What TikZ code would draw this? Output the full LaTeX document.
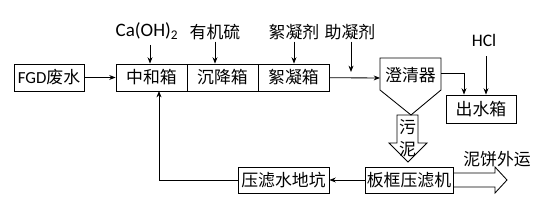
\documentclass[tikz,border=0pt]{standalone}
\usepackage{fontspec}
\setmainfont{Carlito}
\newfontfamily\cjk{Noto Sans CJK SC}
\usetikzlibrary{arrows.meta}
\newcommand\pxl{0.025cm}
\tikzset{
  box/.style={draw, minimum height=27*\pxl, inner sep=0pt, font=\fontsize{12}{14}\selectfont\cjk},
  lbl/.style={inner sep=1pt, font=\fontsize{12}{14}\selectfont\cjk},
  flow/.style={-{Stealth[length=4.5pt,width=3.5pt]}},
}
\begin{document}
\begin{tikzpicture}[x=0.025cm,y=-0.025cm,line width=0.6pt,font=\fontsize{11}{13}\selectfont]
  \useasboundingbox (0,0) rectangle (551,208);
  % boxes
  \node[box,minimum width=70*\pxl] (fgd) at (49,77.5) {\normalfont\fontsize{12}{14}\selectfont FGD\cjk 废水};
  \node[box,minimum width=71*\pxl] (zh) at (151.5,77.5) {中和箱};
  \node[box,minimum width=71*\pxl] (cj) at (222.5,77.5) {沉降箱};
  \node[box,minimum width=71*\pxl] (xn) at (293.5,77.5) {絮凝箱};
  \node[box,minimum width=70*\pxl,minimum height=28*\pxl] (csx) at (481,109) {出水箱};
  \node[box,minimum width=88*\pxl,minimum height=26*\pxl] (bk) at (409,180) {板框压滤机};
  \node[box,minimum width=91*\pxl,minimum height=26*\pxl] (ylsd) at (283.5,180) {压滤水地坑};
  % clarifier
  \draw (380,58) -- (441,58) -- (441,90) -- (411,115) -- (380,90) -- cycle;
  \node[lbl] (cqq) at (410.5,75) {澄清器};
  \coordinate (cqqw) at (380,78);
  \coordinate (cqqe) at (441,73);
  % dosing labels
  \node[lbl,font=\fontsize{13.5}{15}\selectfont] (caoh) at (147,31) {Ca(OH)\textsubscript{2}};
  \node[lbl] (yjl) at (215,32) {有机硫};
  \node[lbl] (xnj) at (294,32) {絮凝剂};
  \node[lbl] (znj) at (350,32) {助凝剂};
  \node[lbl,font=\fontsize{12.5}{14}\selectfont,inner sep=7pt] (hcl) at (484,40) {HCl};
  \node[lbl] (nbwy) at (497,159) {泥饼外运};
  \coordinate (znjend) at (351,72);
  % connectors
  \draw[flow] (fgd) -- (zh);
  \draw[flow] (150,45) -- (150,0 |- zh.north);
  \draw[flow] (yjl.south) -- (yjl.south |- cj.north);
  \draw[flow] (xnj.south) -- (xnj.south |- xn.north);
  \draw[flow] (znj.south -| znjend) -- (znjend);
  \draw[flow] (xn) -- (cqqw);
  \draw[flow] (cqqe) -| ([xshift=-17*\pxl]csx.north);
  \draw[flow] ([xshift=2*\pxl]hcl.south) -- ([xshift=2*\pxl]hcl.south |- csx.north);
  \draw[flow] (bk) -- (ylsd);
  \draw[flow] (ylsd.west) -| (159,91);
  % sludge arrows
  \draw (397,115) -- (418,115) -- (418,143) -- (427,143) -- (408,162) -- (389,143) -- (397,143) -- cycle;
  \node[lbl] (wu) at (407.5,127) {污};
  \node[lbl] (ni) at (407.5,149) {泥};
  \draw (bk.east |- 0,173) -- (495,173) -- (495,167) -- (507,180) -- (495,193) -- (495,187) -- (bk.east |- 0,187);
\end{tikzpicture}
\end{document}
